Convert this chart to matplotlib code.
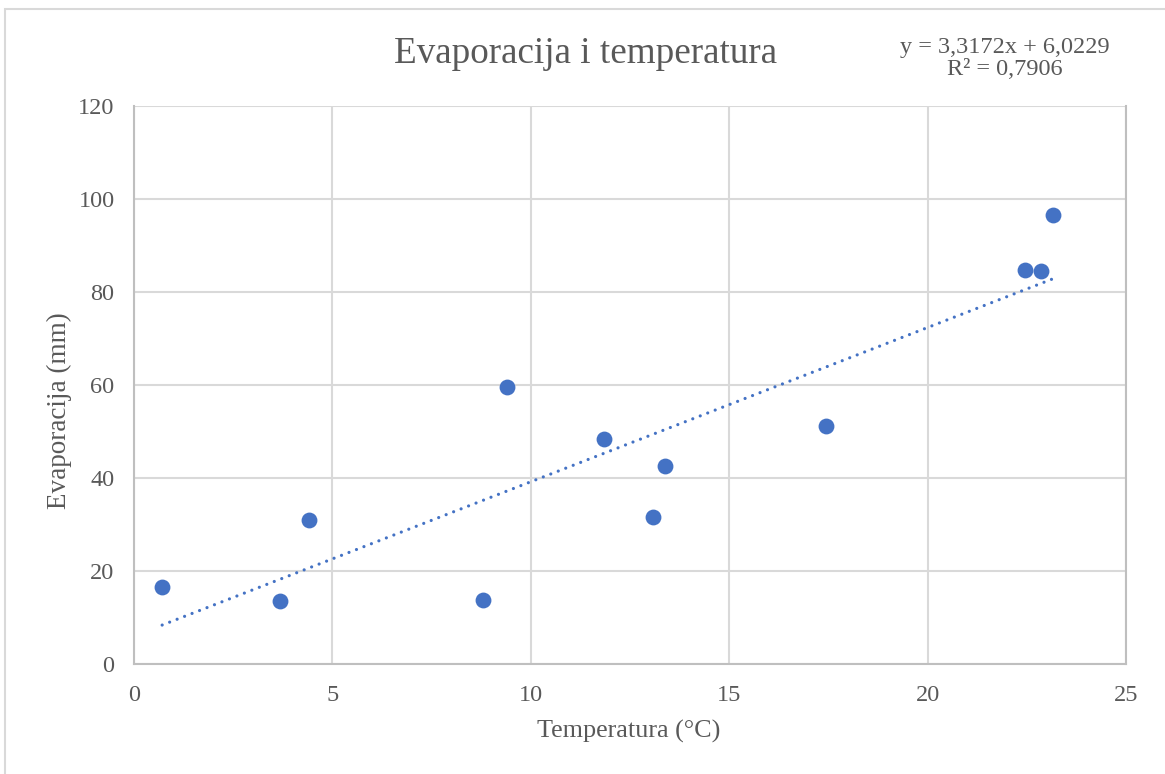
import matplotlib.pyplot as plt
import numpy as np

# temperature (°C) and evaporation (mm)
temperatura = [0.71, 3.68, 4.41, 8.80, 9.40, 11.84, 13.08, 13.38, 17.44, 22.45, 22.86, 23.16]
evaporacija = [16.6, 13.5, 31.0, 13.8, 59.6, 48.4, 31.6, 42.6, 51.2, 84.7, 84.5, 96.6]

# trendline from the label
slope = 3.3172
intercept = 6.0229
r2_text = "0,7906"

x_ticks = [0, 5, 10, 15, 20, 25]
y_ticks = [0, 20, 40, 60, 80, 100, 120]

blue = "#4472C4"
grid_col = "#D9D9D9"
text_col = "#595959"

plt.rcParams['font.family'] = ['Liberation Serif', 'DejaVu Serif']

fig = plt.figure(figsize=(11.65, 7.74), dpi=100)
ax = fig.add_axes([0.115, 0.1421, 0.8515, 0.7209])

# outer chart border
fig.patches.append(plt.Rectangle((5 / 1165, -0.01), 1.02, 1 - 9 / 774 + 0.01,
                                 transform=fig.transFigure, fill=False,
                                 edgecolor="#D9D9D9", linewidth=1.5))

ax.scatter(temperatura, evaporacija, s=130, color=blue, zorder=3, linewidths=0)

xt = np.array([min(temperatura), max(temperatura)])
ax.plot(xt, slope * xt + intercept, color=blue, linewidth=2.3,
        linestyle=(0, (0.01, 2.5)), dash_capstyle='round', zorder=2)

ax.set_xlim(0, 25)
ax.set_ylim(0, 120)
ax.set_xticks(x_ticks)
ax.set_yticks(y_ticks)
ax.grid(True, color=grid_col, linewidth=1.5)
ax.set_axisbelow(True)
for side in ['left', 'bottom', 'right']:
    ax.spines[side].set_color("#BFBFBF")
    ax.spines[side].set_linewidth(1.5)
ax.spines['top'].set_visible(False)
ax.tick_params(length=0, labelsize=17.5, labelcolor=text_col)
ax.tick_params(axis='x', pad=15)
ax.tick_params(axis='y', pad=14)

ax.set_xlabel('Temperatura (°C)', fontsize=18.8, color=text_col)
ax.set_ylabel('Evaporacija (mm)', fontsize=19.5, color=text_col)
ax.xaxis.set_label_coords(0.4985, -0.101)
ax.yaxis.set_label_coords(-0.0625, 0.455)

fig.text(0.503, 1 - 63 / 774, 'Evaporacija i temperatura', fontsize=26.7,
         color=text_col, ha='center', va='baseline')

eq = f"y = {slope:.4f}x + {intercept:.4f}".replace('.', ',')
fig.text(0.8627, 1 - 53 / 774, eq, fontsize=17.5, color=text_col,
         ha='center', va='baseline')
fig.text(0.8627, 1 - 75 / 774, "R² = " + r2_text, fontsize=17.5, color=text_col,
         ha='center', va='baseline')

fig.savefig('out.png', dpi=100)
